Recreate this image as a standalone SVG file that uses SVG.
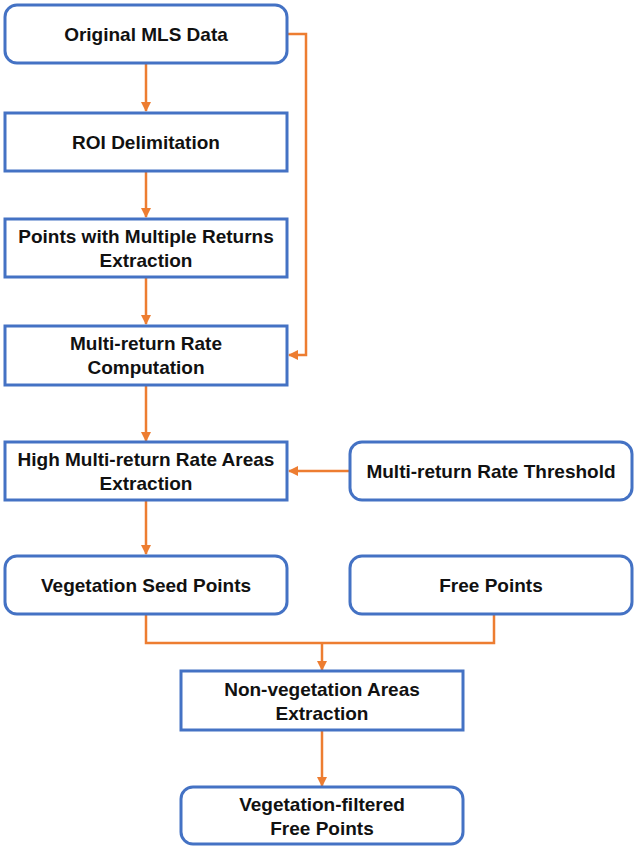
<svg xmlns="http://www.w3.org/2000/svg" width="634" height="846" viewBox="0 0 634 846">
  <style>
    .box { fill: #ffffff; stroke: #4472C4; stroke-width: 3; }
    .lbl { font-family: "Liberation Sans", Arial, sans-serif; font-weight: bold; font-size: 19px; fill: #111111; text-anchor: middle; }
    .wire { fill: none; stroke: #ED7D31; stroke-width: 2.5; }
  </style>
  <defs>
    <marker id="arrow" viewBox="0 0 10 10" refX="9" refY="5" markerWidth="4" markerHeight="4" orient="auto" markerUnits="strokeWidth">
      <path d="M0,0 L10,5 L0,10 Z" fill="#ED7D31"/>
    </marker>
  </defs>

  <g id="connectors">
    <line class="wire" x1="146" y1="64" x2="146" y2="111" marker-end="url(#arrow)"/>
    <line class="wire" x1="146" y1="172" x2="146" y2="217" marker-end="url(#arrow)"/>
    <line class="wire" x1="146" y1="278" x2="146" y2="324" marker-end="url(#arrow)"/>
    <polyline class="wire" points="288,34 306,34 306,355 289,355" marker-end="url(#arrow)"/>
    <line class="wire" x1="146" y1="386" x2="146" y2="441" marker-end="url(#arrow)"/>
    <line class="wire" x1="350" y1="471" x2="289" y2="471" marker-end="url(#arrow)"/>
    <line class="wire" x1="146" y1="501" x2="146" y2="554" marker-end="url(#arrow)"/>
    <polyline class="wire" points="146,615 146,643 494,643 494,615"/>
    <line class="wire" x1="322" y1="643" x2="322" y2="670" marker-end="url(#arrow)"/>
    <line class="wire" x1="322" y1="730" x2="322" y2="786" marker-end="url(#arrow)"/>
  </g>

  <g id="original-mls-data">
    <rect class="box" x="5" y="5" width="282" height="58" rx="12"/>
    <text class="lbl" x="146" y="41">Original MLS Data</text>
  </g>

  <g id="roi-delimitation">
    <rect class="box" x="5" y="113" width="282" height="58"/>
    <text class="lbl" x="146" y="149">ROI Delimitation</text>
  </g>

  <g id="multiple-returns-extraction">
    <rect class="box" x="5" y="219" width="282" height="58"/>
    <text class="lbl" x="146" y="243">Points with Multiple Returns</text>
    <text class="lbl" x="146" y="267">Extraction</text>
  </g>

  <g id="multi-return-rate">
    <rect class="box" x="5" y="326" width="282" height="59"/>
    <text class="lbl" x="146" y="350">Multi-return Rate</text>
    <text class="lbl" x="146" y="374">Computation</text>
  </g>

  <g id="high-rate-areas">
    <rect class="box" x="5" y="442" width="282" height="58"/>
    <text class="lbl" x="146" y="466">High Multi-return Rate Areas</text>
    <text class="lbl" x="146" y="490">Extraction</text>
  </g>

  <g id="rate-threshold">
    <rect class="box" x="350" y="442" width="282" height="58" rx="12"/>
    <text class="lbl" x="491" y="478">Multi-return Rate Threshold</text>
  </g>

  <g id="vegetation-seed-points">
    <rect class="box" x="5" y="556" width="282" height="58" rx="12"/>
    <text class="lbl" x="146" y="592">Vegetation Seed Points</text>
  </g>

  <g id="free-points">
    <rect class="box" x="350" y="556" width="282" height="58" rx="12"/>
    <text class="lbl" x="491" y="592">Free Points</text>
  </g>

  <g id="non-vegetation-areas">
    <rect class="box" x="181" y="671" width="282" height="59"/>
    <text class="lbl" x="322" y="696">Non-vegetation Areas</text>
    <text class="lbl" x="322" y="720">Extraction</text>
  </g>

  <g id="filtered-free-points">
    <rect class="box" x="181" y="787" width="282" height="57" rx="12"/>
    <text class="lbl" x="322" y="811">Vegetation-filtered</text>
    <text class="lbl" x="322" y="835">Free Points</text>
  </g>
</svg>
